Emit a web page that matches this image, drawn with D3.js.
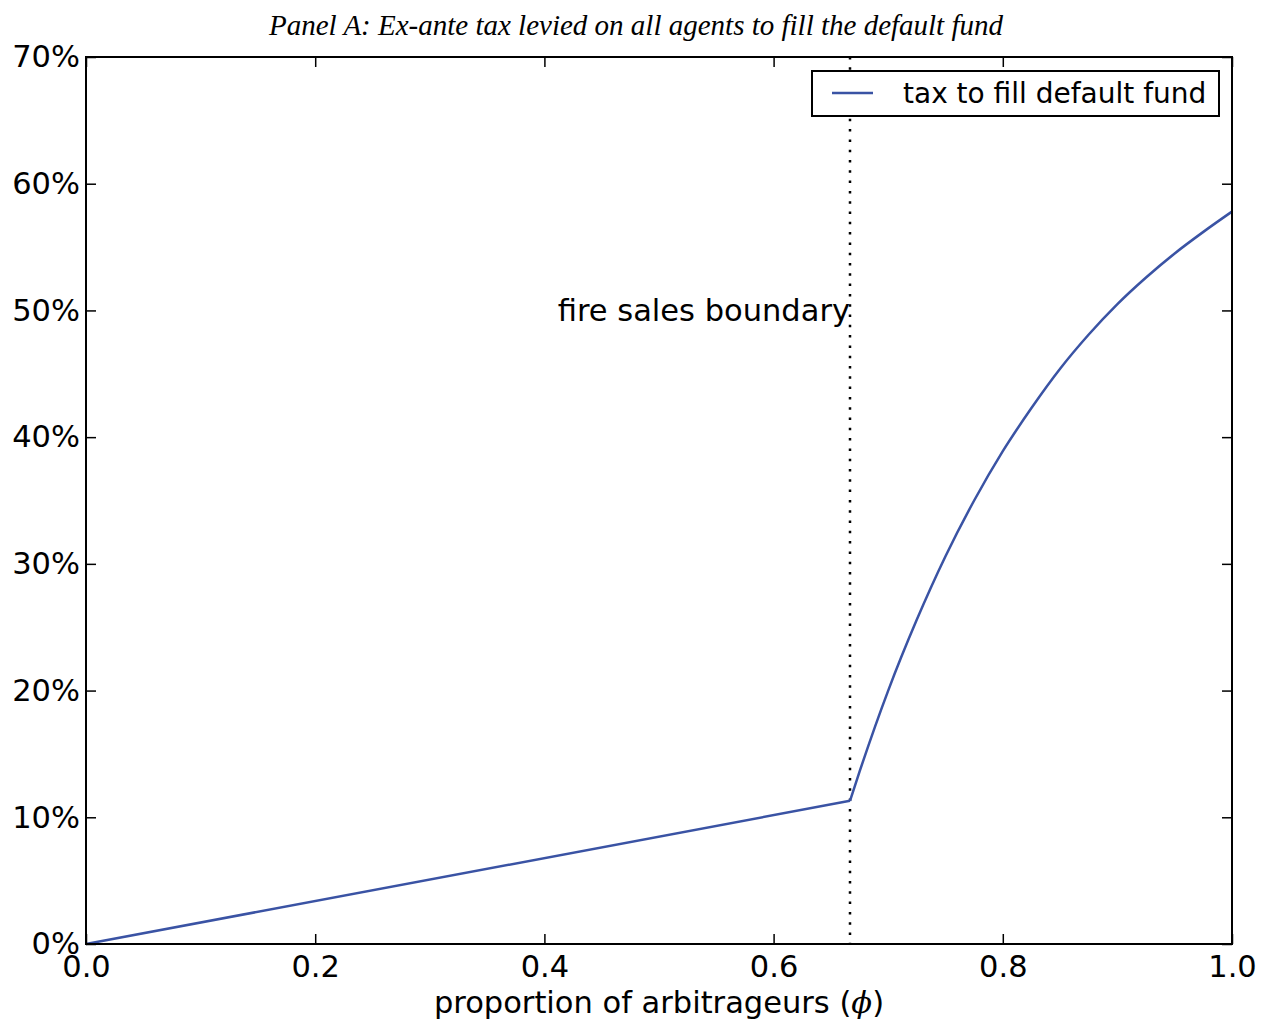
<!DOCTYPE html>
<html>
<head>
    <script src="https://cdnjs.cloudflare.com/ajax/libs/d3/7.8.5/d3.min.js"></script>
    <style>
        body { margin: 0; background: #fff; }
        text { font-family: "DejaVu Sans", sans-serif; }
    </style>
</head>
<body>
    <div id="chart"></div>
    <script>
        // values
        const boundary = 2 / 3;
        const phiLinear = [0, boundary];
        const taxLinear = [0, 0.113];
        const phiCurve = [boundary, 0.675, 0.70, 0.725, 0.75, 0.775, 0.80, 0.825, 0.85, 0.875, 0.90, 0.925, 0.95, 0.975, 1.0];
        const taxCurve = [0.113, 0.136, 0.200, 0.256, 0.306, 0.350, 0.389, 0.423, 0.454, 0.481, 0.505, 0.526, 0.545, 0.562, 0.578];
        const xTicks = [0, 0.2, 0.4, 0.6, 0.8, 1.0];
        const yTicks = [0, 0.1, 0.2, 0.3, 0.4, 0.5, 0.6, 0.7];

        const W = 1263, H = 1021;
        const mLeft = 86, mRight = 1232, mTop = 57, mBottom = 944;
        const fs = "30.5px";

        const svg = d3.select("#chart")
            .append("svg")
            .attr("width", W)
            .attr("height", H);

        const x = d3.scaleLinear().domain([0, 1]).range([mLeft, mRight]);
        const y = d3.scaleLinear().domain([0, 0.7]).range([mBottom, mTop]);

        // title
        svg.append("text")
            .attr("x", 636)
            .attr("y", 35)
            .attr("text-anchor", "middle")
            .style("font-family", "'Liberation Serif', 'Times New Roman', serif")
            .style("font-style", "italic")
            .style("font-size", "29px")
            .text("Panel A: Ex-ante tax levied on all agents to fill the default fund");

        // boundary line
        svg.append("line")
            .attr("x1", x(boundary)).attr("x2", x(boundary))
            .attr("y1", mTop).attr("y2", mBottom)
            .attr("stroke", "#000")
            .attr("stroke-width", 2.5)
            .attr("stroke-dasharray", "2.5,7.8");

        svg.append("text")
            .attr("x", x(boundary))
            .attr("y", y(0.5))
            .attr("dy", "0.35em")
            .attr("text-anchor", "end")
            .style("font-size", fs)
            .text("fire sales boundary");

        // tax curve
        const lineA = d3.line().x(d => x(d[0])).y(d => y(d[1]));
        const lineB = d3.line().x(d => x(d[0])).y(d => y(d[1])).curve(d3.curveMonotoneX);
        const col = "#3a53a4";

        svg.append("path")
            .datum(d3.zip(phiLinear, taxLinear))
            .attr("d", lineA)
            .attr("fill", "none")
            .attr("stroke", col)
            .attr("stroke-width", 2.5);

        svg.append("path")
            .datum(d3.zip(phiCurve, taxCurve))
            .attr("d", lineB)
            .attr("fill", "none")
            .attr("stroke", col)
            .attr("stroke-width", 2.5)
            .attr("stroke-linejoin", "round");

        // axes with inward ticks on all four sides
        const axB = svg.append("g").attr("transform", `translate(0,${mBottom})`)
            .call(d3.axisBottom(x).tickValues(xTicks).tickFormat(d3.format(".1f")).tickSizeInner(-10).tickSizeOuter(0).tickPadding(11));
        const axT = svg.append("g").attr("transform", `translate(0,${mTop})`)
            .call(d3.axisTop(x).tickValues(xTicks).tickFormat("").tickSizeInner(-10).tickSizeOuter(0));
        const axL = svg.append("g").attr("transform", `translate(${mLeft},0)`)
            .call(d3.axisLeft(y).tickValues(yTicks).tickFormat(d3.format(".0%")).tickSizeInner(-10).tickSizeOuter(0).tickPadding(6));
        const axR = svg.append("g").attr("transform", `translate(${mRight},0)`)
            .call(d3.axisRight(y).tickValues(yTicks).tickFormat("").tickSizeInner(-10).tickSizeOuter(0));

        [axB, axT, axL, axR].forEach(g => {
            g.select(".domain").remove();
            g.selectAll(".tick line").attr("stroke", "#000").attr("stroke-width", 1.5);
            g.selectAll(".tick text")
                .attr("fill", "#000")
                .style("font-family", "'DejaVu Sans', sans-serif")
                .style("font-size", fs);
        });

        // frame
        svg.append("rect")
            .attr("x", mLeft).attr("y", mTop)
            .attr("width", mRight - mLeft).attr("height", mBottom - mTop)
            .attr("fill", "none")
            .attr("stroke", "#000")
            .attr("stroke-width", 2);

        // x label
        const xl = svg.append("text")
            .attr("x", (mLeft + mRight) / 2)
            .attr("y", 1013)
            .attr("text-anchor", "middle")
            .style("font-size", fs);
        xl.append("tspan").text("proportion of arbitrageurs (");
        xl.append("tspan").style("font-family", "'DejaVu Serif', serif").style("font-style", "italic").text("ϕ");
        xl.append("tspan").text(")");

        // legend
        const lg = svg.append("g");
        lg.append("rect")
            .attr("x", 812).attr("y", 71)
            .attr("width", 407).attr("height", 45)
            .attr("fill", "#fff")
            .attr("stroke", "#000")
            .attr("stroke-width", 2);
        lg.append("line")
            .attr("x1", 832).attr("x2", 873)
            .attr("y1", 93).attr("y2", 93)
            .attr("stroke", col)
            .attr("stroke-width", 2.5);
        lg.append("text")
            .attr("x", 903).attr("y", 103)
            .style("font-size", "28px")
            .text("tax to fill default fund");
    </script>
</body>
</html>
